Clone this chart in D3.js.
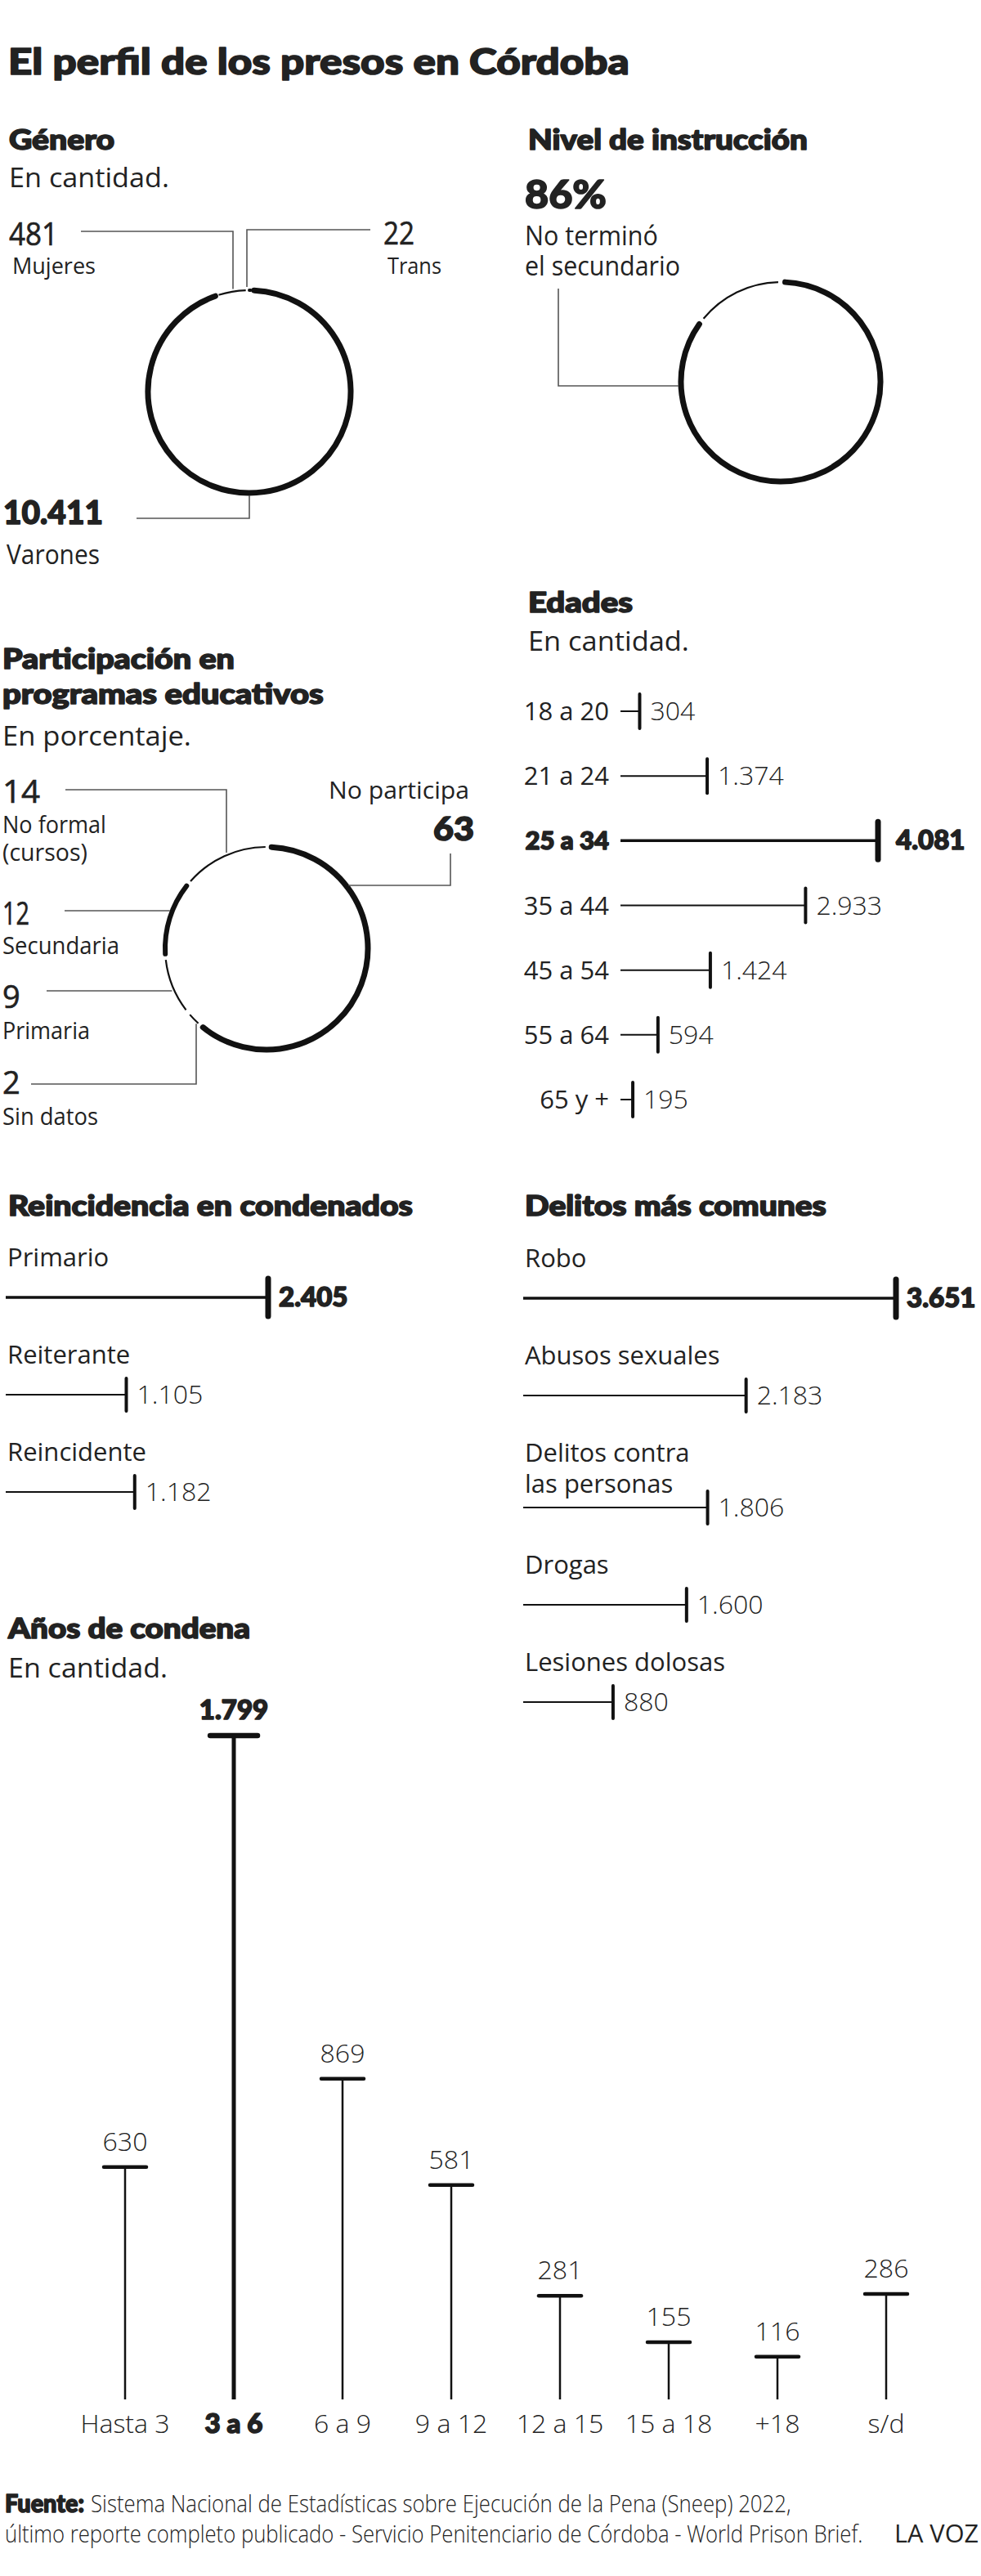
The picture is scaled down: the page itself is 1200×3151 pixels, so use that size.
<!DOCTYPE html>
<html lang="es">
<head>
<meta charset="utf-8">
<title>El perfil de los presos en Córdoba</title>
<script src="https://cdn.jsdelivr.net/npm/d3@7"></script>
<style>
  html, body { margin: 0; padding: 0; background: #fff; }
  svg { display: block; font-family: "Open Sans", "Noto Sans", sans-serif; }
  text { fill: #222; }
  .heavy { font-family: Lato, "Open Sans", sans-serif; stroke: #222; stroke-width: 1.6; stroke-linejoin: round; paint-order: stroke; }
  .medium { stroke: #222; stroke-width: 0.6; }
  .lead { fill: none; stroke: #555; stroke-width: 1.6; }
  .ink { fill: none; stroke: #111; }
</style>
</head>
<body>
<svg id="chart" width="1200" height="3151"></svg>
<script>
const generoCats = ["Varones", "Mujeres", "Trans"];
const generoVals = [10411, 481, 22];

const instruccionCats = ["No terminó el secundario", "Resto"];
const instruccionVals = [86, 14];

const programaCats = ["No participa", "Sin datos", "Primaria", "Secundaria", "No formal (cursos)"];
const programaVals = [63, 2, 9, 12, 14];

const edadCats = ["18 a 20", "21 a 24", "25 a 34", "35 a 44", "45 a 54", "55 a 64", "65 y +"];
const edadVals = [304, 1374, 4081, 2933, 1424, 594, 195];

const reincCats = ["Primario", "Reiterante", "Reincidente"];
const reincVals = [2405, 1105, 1182];

const delitoCats = ["Robo", "Abusos sexuales", "Delitos contra\nlas personas", "Drogas", "Lesiones dolosas"];
const delitoVals = [3651, 2183, 1806, 1600, 880];

const condenaCats = ["Hasta 3", "3 a 6", "6 a 9", "9 a 12", "12 a 15", "15 a 18", "+18", "s/d"];
const condenaVals = [630, 1799, 869, 581, 281, 155, 116, 286];

// ---- helpers ----
const es = d3.formatLocale({ decimal: ",", thousands: ".", grouping: [3], currency: ["$", ""] });
const fmt = es.format(",d");

const svg = d3.select("#chart");
svg.append("rect").attr("width", 1200).attr("height", 3151).attr("fill", "#fff");

// text; "fit" squeezes/stretches it horizontally to a target width
function txt(parent, x, y, str, o = {}) {
  const w = o.weight || 400;
  const t = parent.append("text")
    .attr("class", w >= 800 ? "heavy" : (w === 500 ? "medium" : null))
    .attr("font-size", o.size || 31)
    .attr("font-weight", w >= 800 ? 900 : w)
    .attr("text-anchor", o.anchor || "start")
    .text(str);
  if (o.fit) {
    const s = o.fit / t.node().getComputedTextLength();
    t.attr("transform", `translate(${x},${y}) scale(${s},1)`);
  } else {
    t.attr("x", x).attr("y", y);
  }
  return t;
}

const line = d3.line();

function lead(parent, pts) {
  parent.append("path").attr("class", "lead").attr("d", line(pts));
}

// point on a circle for a given y (or x); side -1 left/top, +1 right/bottom
function circleX(c, y, side) {
  return c.cx + side * Math.sqrt(Math.max(0, c.r * c.r - (y - c.cy) * (y - c.cy)));
}
function circleY(c, x, side) {
  return c.cy + side * Math.sqrt(Math.max(0, c.r * c.r - (x - c.cx) * (x - c.cx)));
}

function ring(parent, cats, vals, c) {
  const pie = d3.pie()
    .sort(null)
    .value((d) => d.v)
    .padAngle(c.pad)
    .startAngle(c.start)
    .endAngle(c.start + Math.PI * 2);
  const arcs = pie(cats.map((cat, i) => ({ cat, v: vals[i] })));
  parent.append("g").selectAll("path")
    .data(arcs)
    .join("path")
    .attr("class", "ink")
    .attr("stroke-width", (d) => c.widths[d.data.cat] || 2.2)
    .attr("stroke-linecap", (d) => (c.widths[d.data.cat] || 2.2) > 3 ? "round" : "butt")
    .attr("d", (d) => {
      const p = d3.path();
      const a0 = d.startAngle + d.padAngle / 2;
      const a1 = d.endAngle - d.padAngle / 2;
      p.arc(c.cx, c.cy, c.r, a0 - Math.PI / 2, a1 - Math.PI / 2);
      return p.toString();
    });
}

// ---- title ----
txt(svg, 10, 91, "El perfil de los presos en Córdoba", { size: 44, weight: 800, fit: 760 });

// ---- Género ----
const gGen = svg.append("g");
txt(gGen, 11, 183, "Género", { size: 34, weight: 800, fit: 129 });
txt(gGen, 11, 229, "En cantidad.", { size: 33, fit: 196 });
const genC = { cx: 305, cy: 479, r: 124, start: 0.03, pad: 0.035,
  widths: { Varones: 7, Mujeres: 2.2, Trans: 4 } };
ring(gGen, generoCats, generoVals, genC);
lead(gGen, [[285, circleY(genC, 285, -1) - 3], [285, 283], [99, 283]]);
lead(gGen, [[302, circleY(genC, 302, -1) - 4], [302, 281], [453, 281]]);
lead(gGen, [[305, genC.cy + genC.r + 3], [305, 634], [167, 634]]);
txt(gGen, 11, 300, fmt(generoVals[1]), { size: 38, weight: 500, fit: 60 });
txt(gGen, 15, 335, generoCats[1], { size: 28, fit: 102 });
txt(gGen, 469, 299, fmt(generoVals[2]), { size: 38, weight: 500, fit: 38 });
txt(gGen, 474, 335, generoCats[2], { size: 28, fit: 66 });
txt(gGen, 4, 641, fmt(generoVals[0]), { size: 40, weight: 800, fit: 122 });
txt(gGen, 8, 690, generoCats[0], { size: 32, fit: 114 });

// ---- Nivel de instrucción ----
const gNiv = svg.append("g");
txt(gNiv, 646, 183, "Nivel de instrucción", { size: 34, weight: 800, fit: 342 });
txt(gNiv, 642, 255, instruccionVals[0] + "%", { size: 48, weight: 800, fit: 100 });
txt(gNiv, 642, 300, "No terminó", { size: 32, fit: 163 });
txt(gNiv, 642, 337, "el secundario", { size: 32, fit: 190 });
const nivC = { cx: 955, cy: 467, r: 122, start: 0.01, pad: 0.07,
  widths: { "No terminó el secundario": 7, Resto: 2.2 } };
ring(gNiv, instruccionCats, instruccionVals, nivC);
lead(gNiv, [[683, 353], [683, 472], [circleX(nivC, 472, -1) - 3, 472]]);

// ---- Participación en programas educativos ----
const gPar = svg.append("g");
txt(gPar, 3, 818, "Participación en", { size: 34, weight: 800, fit: 284 });
txt(gPar, 3, 861, "programas educativos", { size: 34, weight: 800, fit: 393 });
txt(gPar, 3, 912, "En porcentaje.", { size: 33, fit: 231 });
const parC = { cx: 326, cy: 1160, r: 124, start: 0.02, pad: 0.06,
  widths: { "No participa": 7, Secundaria: 6 } };
ring(gPar, programaCats, programaVals, parC);
// No formal
lead(gPar, [[277, circleY(parC, 277, -1) - 3], [277, 966], [80, 966]]);
txt(gPar, 3, 982, String(programaVals[4]), { size: 38, weight: 500, fit: 46 });
txt(gPar, 3, 1019, "No formal", { size: 29, fit: 127 });
txt(gPar, 3, 1053, "(cursos)", { size: 29, fit: 104 });
// Secundaria
lead(gPar, [[79, 1114], [circleX(parC, 1114, -1) - 3, 1114]]);
txt(gPar, 3, 1131, String(programaVals[3]), { size: 38, weight: 500, fit: 33 });
txt(gPar, 3, 1167, programaCats[3], { size: 29, fit: 143 });
// Primaria
lead(gPar, [[57, 1212], [circleX(parC, 1212, -1) - 3, 1212]]);
txt(gPar, 3, 1233, String(programaVals[2]), { size: 38, weight: 500 });
txt(gPar, 3, 1271, programaCats[2], { size: 29, fit: 107 });
// Sin datos
lead(gPar, [[38, 1326], [240, 1326], [240, circleY(parC, 240, 1) + 3]]);
txt(gPar, 3, 1338, String(programaVals[1]), { size: 38, weight: 500 });
txt(gPar, 3, 1376, programaCats[1], { size: 29, fit: 117 });
// No participa
lead(gPar, [[circleX(parC, 1083, 1) + 3, 1083], [551, 1083], [551, 1044]]);
txt(gPar, 574, 977, programaCats[0], { size: 29, anchor: "end", fit: 172 });
txt(gPar, 580, 1028, String(programaVals[0]), { size: 40, weight: 800, anchor: "end", fit: 50 });

// ---- Edades ----
const gEd = svg.append("g");
txt(gEd, 646, 749, "Edades", { size: 34, weight: 800, fit: 128 });
txt(gEd, 646, 796, "En cantidad.", { size: 33, fit: 197 });
const edY = d3.scalePoint().domain(edadCats).range([870, 1345]);
const edX = d3.scaleLinear().domain([0, d3.max(edadVals)]).range([759, 1074]);
const edMax = d3.max(edadVals);
edadCats.forEach((cat, i) => {
  const v = edadVals[i];
  const y = edY(cat);
  const hi = v === edMax;
  gEd.append("path").attr("class", "ink").attr("stroke-width", hi ? 3.5 : 2)
    .attr("d", line([[edX(0), y], [edX(v), y]]));
  gEd.append("path").attr("class", "ink").attr("stroke-width", hi ? 7 : 4).attr("stroke-linecap", "round")
    .attr("d", line([[edX(v), y - (hi ? 23 : 21)], [edX(v), y + (hi ? 23 : 21)]]));
  txt(gEd, 745, y + 11, cat, { size: 31, weight: hi ? 800 : 400, anchor: "end" });
  txt(gEd, edX(v) + (hi ? 22 : 13), y + 11, fmt(v), { size: hi ? 33 : 32, weight: hi ? 800 : 300 });
});

// ---- horizontal rows with the label above ----
function rows(parent, cats, vals, o) {
  const x = d3.scaleLinear().domain([0, d3.max(vals)]).range(o.range);
  const vMax = d3.max(vals);
  let base = o.top;
  cats.forEach((cat, i) => {
    const v = vals[i];
    const hi = v === vMax;
    const parts = cat.split("\n");
    parts.forEach((p, k) => txt(parent, o.range[0] + 2, base + k * 38, p, { size: 31 }));
    const y = base + 38 + (parts.length - 1) * 18;
    parent.append("path").attr("class", "ink").attr("stroke-width", hi ? 3.5 : 2)
      .attr("d", line([[x(0), y], [x(v), y]]));
    parent.append("path").attr("class", "ink").attr("stroke-width", hi ? 7 : 4).attr("stroke-linecap", "round")
      .attr("d", line([[x(v), y - (hi ? 23 : 20)], [x(v), y + (hi ? 23 : 20)]]));
    txt(parent, x(v) + 13, y + 11, fmt(v), { size: hi ? 33 : 32, weight: hi ? 800 : 300 });
    base = y + 81;
  });
}

const gRe = svg.append("g");
txt(gRe, 10, 1487, "Reincidencia en condenados", { size: 34, weight: 800, fit: 495 });
rows(gRe, reincCats, reincVals, { top: 1549, range: [7, 328] });

const gDe = svg.append("g");
txt(gDe, 642, 1487, "Delitos más comunes", { size: 34, weight: 800, fit: 369 });
rows(gDe, delitoCats, delitoVals, { top: 1550, range: [640, 1096] });

// ---- Años de condena ----
const gCo = svg.append("g");
txt(gCo, 10, 2004, "Años de condena", { size: 34, weight: 800, fit: 296 });
txt(gCo, 10, 2052, "En cantidad.", { size: 33, fit: 195 });
const coX = d3.scalePoint().domain(condenaCats).range([153, 1084]);
const coY = d3.scaleLinear().domain([0, d3.max(condenaVals)]).range([2935, 2123]);
const coMax = d3.max(condenaVals);
condenaCats.forEach((cat, i) => {
  const v = condenaVals[i];
  const x = coX(cat);
  const hi = v === coMax;
  const half = hi ? 29 : 26;
  gCo.append("path").attr("class", "ink").attr("stroke-width", hi ? 5 : 2.5)
    .attr("d", line([[x, coY(0)], [x, coY(v)]]));
  gCo.append("path").attr("class", "ink").attr("stroke-width", hi ? 6.5 : 4.5).attr("stroke-linecap", "round")
    .attr("d", line([[x - half, coY(v)], [x + half, coY(v)]]));
  txt(gCo, x, coY(v) - 20, fmt(v), { size: hi ? 33 : 32, weight: hi ? 800 : 300, anchor: "middle" });
  txt(gCo, x, 2976, cat, { size: hi ? 33 : 32, weight: hi ? 800 : 300, anchor: "middle" });
});

// ---- source ----
txt(svg, 6, 3073, "Fuente:", { size: 30, weight: 800, fit: 97 });
txt(svg, 111, 3073, "Sistema Nacional de Estadísticas sobre Ejecución de la Pena (Sneep) 2022,",
  { size: 30, weight: 300, fit: 857 });
txt(svg, 6, 3110, "último reporte completo publicado - Servicio Penitenciario de Córdoba - World Prison Brief.",
  { size: 30, weight: 300, fit: 1050 });
txt(svg, 1197, 3110, "LA VOZ", { size: 31, anchor: "end", fit: 103 });
</script>
</body>
</html>
